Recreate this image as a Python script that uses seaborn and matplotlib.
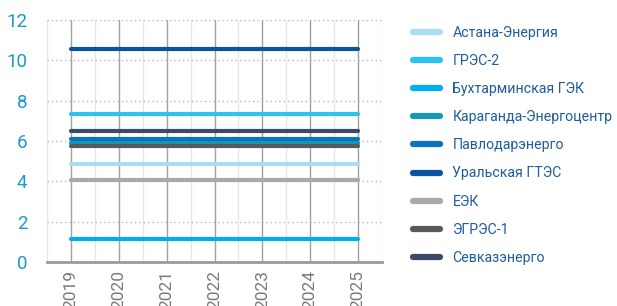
import matplotlib
matplotlib.use("Agg")
import matplotlib.pyplot as plt
from matplotlib.ticker import MultipleLocator
import seaborn as sns
import pandas as pd

years = [2019, 2020, 2021, 2022, 2023, 2024, 2025]
companies = ["Астана-Энергия", "ГРЭС-2", "Бухтарминская ГЭК", "Караганда-Энергоцентр",
             "Павлодарэнерго", "Уральская ГТЭС", "ЕЭК", "ЭГРЭС-1", "Севказэнерго"]
values = {
    "Астана-Энергия":        [4.88] * 7,
    "ГРЭС-2":                [7.32] * 7,
    "Бухтарминская ГЭК":     [1.13] * 7,
    "Караганда-Энергоцентр": [5.92] * 7,
    "Павлодарэнерго":        [6.10] * 7,
    "Уральская ГТЭС":        [10.55] * 7,
    "ЕЭК":                   [4.06] * 7,
    "ЭГРЭС-1":               [5.77] * 7,
    "Севказэнерго":          [6.48] * 7,
}
colors = ["#aadcf5", "#2bc4f0", "#00aeef", "#1797b7", "#0a73c0",
          "#0b559e", "#a7a9ac", "#58595b", "#3b4a66"]
yticks = [0, 2, 4, 6, 8, 10, 12]

rows = []
for c in companies:
    for y, v in zip(years, values[c]):
        rows.append({"year": y, "value": v, "company": c})
df = pd.DataFrame(rows)

sns.set_theme(style="white")
plt.rcParams["font.family"] = ["Roboto", "DejaVu Sans"]

fig = plt.figure(figsize=(6.17, 3.06), dpi=100)
ax = fig.add_axes([47 / 617, 1 - 262 / 306, (382 - 47) / 617, (262 - 20) / 306])

sns.lineplot(data=df, x="year", y="value", hue="company", hue_order=companies,
             palette=colors, linewidth=3, ax=ax, legend=True, zorder=3)

ax.set_xlim(2018.5, 2025.5)
ax.set_ylim(0, 12)
ax.set_xticks(years)
ax.set_xticklabels([str(y) for y in years], rotation=90, color="#7a7a7a", fontsize=12.5)
ax.xaxis.set_minor_locator(MultipleLocator(0.5))
ax.set_yticks(yticks)
ax.set_yticklabels([str(t) for t in yticks], color="#1a9cc9", fontsize=13.5)
ax.tick_params(axis="both", which="both", length=0)
ax.tick_params(axis="x", pad=6)
ax.tick_params(axis="y", pad=14)

ax.grid(axis="x", which="major", color="#a0a0a0", linewidth=1.0, zorder=1)
ax.grid(axis="x", which="minor", color="#e6e6e6", linewidth=1.0, zorder=1)
ax.grid(axis="y", which="major", color="#aaaaaa", linewidth=0.9, linestyle=(0, (1, 2.5)), zorder=1)

for s in ["left", "top", "right"]:
    ax.spines[s].set_visible(False)
ax.spines["bottom"].set_color("#9a9a9a")
ax.spines["bottom"].set_linewidth(2)
ax.set_xlabel("")
ax.set_ylabel("")

handles, labels = ax.get_legend_handles_labels()
ax.get_legend().remove()
leg = ax.legend(handles, labels, loc="upper left", bbox_to_anchor=(1.075, 1.0),
                frameon=False, fontsize=10.2, handlelength=1.9, handletextpad=0.9,
                labelspacing=1.0, borderaxespad=0)
for line, txt in zip(leg.get_lines(), leg.get_texts()):
    line.set_linewidth(4.5)
    line.set_solid_capstyle("round")
    txt.set_color("#1f5d9c")

fig.savefig("out.png", dpi=100)
